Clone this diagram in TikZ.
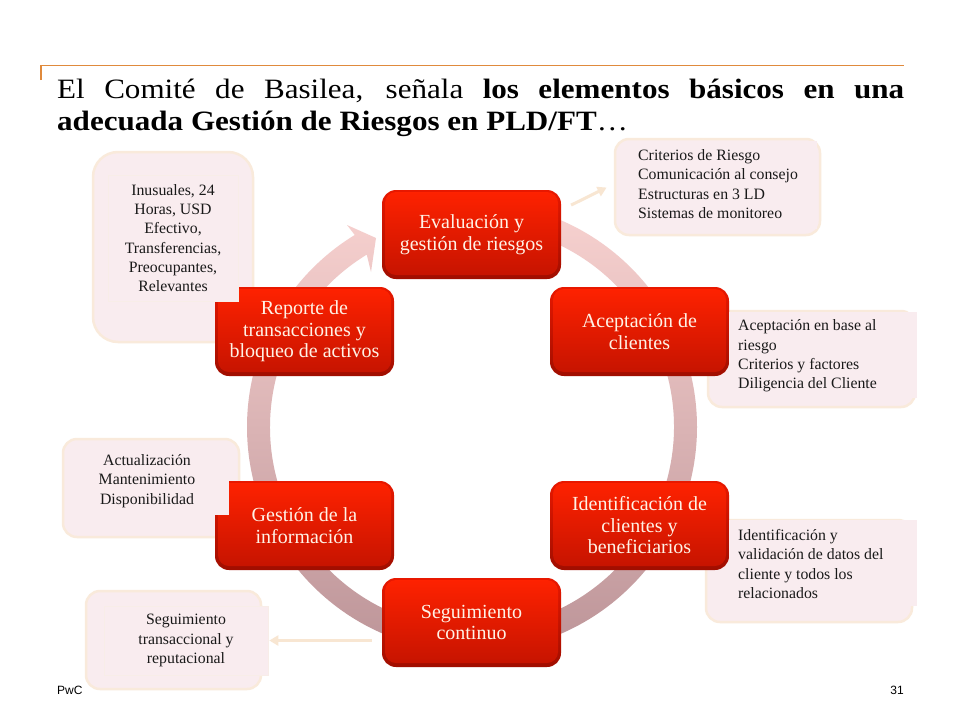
\documentclass[tikz,border=0pt]{standalone}
\usepackage{fontspec}
\usetikzlibrary{arrows.meta}
\setmainfont{Liberation Serif}
\newfontfamily\titlefont[FakeStretch=1.11]{Liberation Serif}
\newfontfamily\pwcfont{Liberation Sans}
\definecolor{calfill}{HTML}{F9ECEF}
\definecolor{caledge}{HTML}{F9EADB}
\definecolor{rectedge}{HTML}{F8EDE8}
\definecolor{hdr}{HTML}{E08A3C}
\definecolor{txtw}{HTML}{FFF2E6}
\definecolor{conn}{HTML}{F8E6D2}
\definecolor{redtop}{HTML}{E81800}
\definecolor{redbot}{HTML}{A00E00}
\definecolor{redintop}{HTML}{FF2200}
\definecolor{redinbot}{HTML}{C41300}
\definecolor{ringtop}{HTML}{F8D2D0}
\definecolor{ringbot}{HTML}{BC9498}
\tikzset{
  redbox/.style={rectangle,rounded corners=14pt,minimum width=179pt,minimum height=89pt,inner sep=0pt,
    top color=redtop,bottom color=redbot,text=txtw,align=center,
    font=\fontsize{20}{21.5}\selectfont,
    path picture={\shade[top color=redintop,bottom color=redinbot,rounded corners=11pt]
      ([shift={(3pt,-2pt)}]path picture bounding box.north west) rectangle
      ([shift={(-3pt,4pt)}]path picture bounding box.south east);}},
  callout/.style={rectangle,rounded corners=#1,draw=caledge,line width=2.5pt,fill=calfill,inner sep=0pt},
  callout/.default=14pt,
  txtrect/.style={rectangle,draw=rectedge,line width=.6pt,fill=calfill,inner sep=0pt},
  cleanrect/.style={rectangle,fill=calfill,inner sep=0pt},
  caltext/.style={font=\fontsize{15.8}{19.3}\selectfont,inner sep=0pt,text=black!90},
  connector/.style={draw=conn,line width=3pt,-{Triangle[length=9pt,width=10pt]}},
  foot/.style={font=\pwcfont\fontsize{12}{14}\selectfont,inner sep=0pt}
}
\begin{document}
\begin{tikzpicture}[x=1pt,y=-1pt]
\useasboundingbox (0,0) rectangle (960,720);
\fill[white] (0,0) rectangle (960,720);
% header rule
\draw[hdr,line width=1.2pt] (41,80) -- (41,65.5) -- (904,65.5);
% title
\node[anchor=north west,inner sep=0pt,text width=847pt,align=justify,
  font=\titlefont\fontsize{28}{32}\selectfont] (title) at (57,79)
  {El Comité de Basilea, señala \textbf{los elementos básicos en una}\linebreak
   \textbf{adecuada Gestión de Riesgos en PLD/FT}…};
% ring with arrow head
\shade[top color=ringtop,bottom color=ringbot]
  ([shift={(90:225pt)}]472,427) arc[start angle=90,end angle=-238.6,radius=225pt]
  -- (347,225) -- (376,238) -- (371,272)
  -- ([shift={(121.4:202pt)}]472,427) arc[start angle=-238.6,end angle=90,radius=202pt] -- cycle;
% callout backgrounds
\node[callout=25pt,minimum width=160pt,minimum height=190pt] (c1) at (173,247) {};
\node[callout,minimum width=205pt,minimum height=96pt] (c2) at (717.5,187) {};
\node[callout,minimum width=207pt,minimum height=96pt] (c3) at (811.5,359) {};
\node[callout,minimum width=206pt,minimum height=102pt] (c4) at (809,571) {};
\node[callout,minimum width=176pt,minimum height=98pt] (c5) at (151,488) {};
\node[callout,minimum width=175pt,minimum height=98pt] (c6) at (173.5,640) {};
% red boxes
\node[redbox] (eval) at (471.5,234.5) {Evaluación y\\gestión de riesgos};
\node[redbox] (acep) at (639.5,331.5) {Aceptación de\\clientes};
\node[redbox] (iden) at (639.5,525.5) {Identificación de\\clientes y\\beneficiarios};
\node[redbox] (segu) at (471.5,622.5) {Seguimiento\\continuo};
\node[redbox] (gest) at (304.5,525.5) {Gestión de la\\información};
\node[redbox] (repo) at (304.5,331.5) {Reporte de\\transacciones y\\bloqueo de activos};
% text rectangles over the boxes
\node[txtrect,minimum width=130pt,minimum height=126pt] (r1) at (173,238) {};
\node[cleanrect,minimum width=190pt,minimum height=88pt] (r2) at (722,185) {};
\node[cleanrect,minimum width=188pt,minimum height=86pt] (r3) at (823,355) {};
\node[cleanrect,minimum width=188pt,minimum height=86pt] (r4) at (823,563) {};
\node[cleanrect,minimum width=149pt,minimum height=70pt] (r5) at (154.5,480) {};
\node[txtrect,minimum width=164pt,minimum height=69pt] (r6) at (186,640.5) {};
% texts
\node[caltext,align=center] (t1) at (173,238) {Inusuales, 24\\Horas, USD\\Efectivo,\\Transferencias,\\Preocupantes,\\Relevantes};
\node[caltext,align=left,anchor=west] (t2) at (638,184) {Criterios de Riesgo\\Comunicación al consejo\\Estructuras en 3 LD\\Sistemas de monitoreo};
\node[caltext,align=left,anchor=west] (t3) at (738,356) {Aceptación en base al\\riesgo\\Criterios y factores\\Diligencia del Cliente};
\node[caltext,align=left,anchor=west] (t4) at (738,564) {Identificación y\\validación de datos del\\cliente y todos los\\relacionados};
\node[caltext,align=center] (t5) at (147,481) {Actualización\\Mantenimiento\\Disponibilidad};
\node[caltext,align=center] (t6) at (186,640.5) {Seguimiento\\transaccional y\\reputacional};
% connectors
\draw[connector,shorten <=11pt,shorten >=8pt] ([yshift=24.5pt]eval.east) -- ([yshift=3pt]c2.west);
\draw[connector,shorten <=10pt,shorten >=1pt] (r6.east -| segu.west) -- (r6.east);
% footer
\node[foot,anchor=west] (pwc) at (57,690) {PwC};
\node[foot,anchor=east] (page) at (904,690) {31};
\end{tikzpicture}
\end{document}
